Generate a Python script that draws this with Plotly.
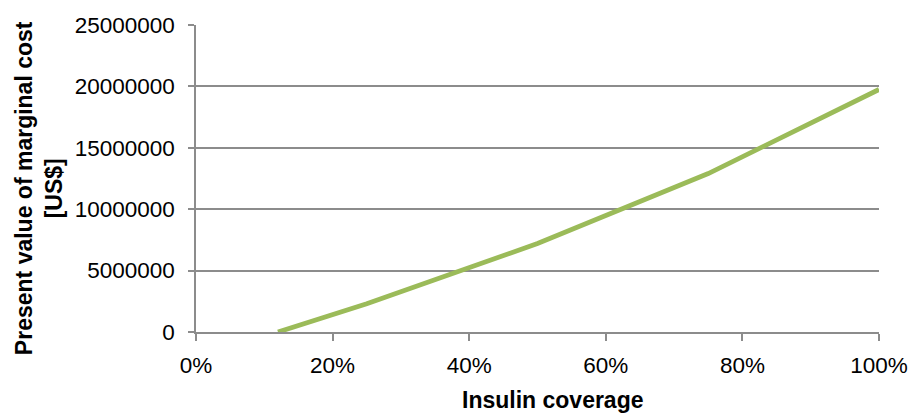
import plotly.graph_objects as go

coverage = [0.12, 0.25, 0.50, 0.75, 1.00]
marginal_cost = [0, 2300000, 7200000, 12900000, 19750000]
y_ticks = [0, 5000000, 10000000, 15000000, 20000000, 25000000]
x_ticks = [0, 0.2, 0.4, 0.6, 0.8, 1.0]
x_tick_labels = ["0%", "20%", "40%", "60%", "80%", "100%"]

fig = go.Figure()
fig.add_trace(go.Scatter(x=coverage, y=marginal_cost, mode="lines",
                         line=dict(color="#9BBB59", width=4.8), showlegend=False))

font_family = "Liberation Sans, Arial, sans-serif"
fig.update_layout(
    width=919, height=414,
    margin=dict(l=196, r=40, t=25, b=82),
    paper_bgcolor="white", plot_bgcolor="white",
    font=dict(family=font_family, color="black", size=22),
    xaxis=dict(range=[0, 1], tickvals=x_ticks, ticktext=x_tick_labels,
               showgrid=False, zeroline=False, showline=True, linecolor="#8c8c8c", linewidth=1.5,
               ticks="outside", ticklen=7, tickcolor="#8c8c8c", tickwidth=1.5,
               tickfont=dict(size=22.5), ticklabelstandoff=5),
    yaxis=dict(range=[0, 25000000], tickvals=y_ticks, ticktext=[str(v) for v in y_ticks],
               showgrid=True, gridcolor="#8c8c8c", gridwidth=1.5, zeroline=False,
               showline=True, linecolor="#8c8c8c", linewidth=1.5,
               ticks="outside", ticklen=6, tickcolor="#8c8c8c", tickwidth=1.5,
               tickfont=dict(size=22.5), ticklabelstandoff=9),
    annotations=[
        dict(text="<b>Insulin coverage</b>", x=0.5227, y=-0.222, xref="paper", yref="paper",
             xanchor="center", yanchor="middle", showarrow=False, font=dict(size=23)),
        dict(text="<b>Present value of marginal cost<br>[US$]</b>", x=-0.2306, y=0.467,
             xref="paper", yref="paper", xanchor="center", yanchor="middle",
             showarrow=False, textangle=-90, font=dict(size=23)),
    ],
)
fig.write_html("out.html", config={"displayModeBar": False},
               post_script="document.body.style.margin='0';document.body.style.overflow='hidden';")
